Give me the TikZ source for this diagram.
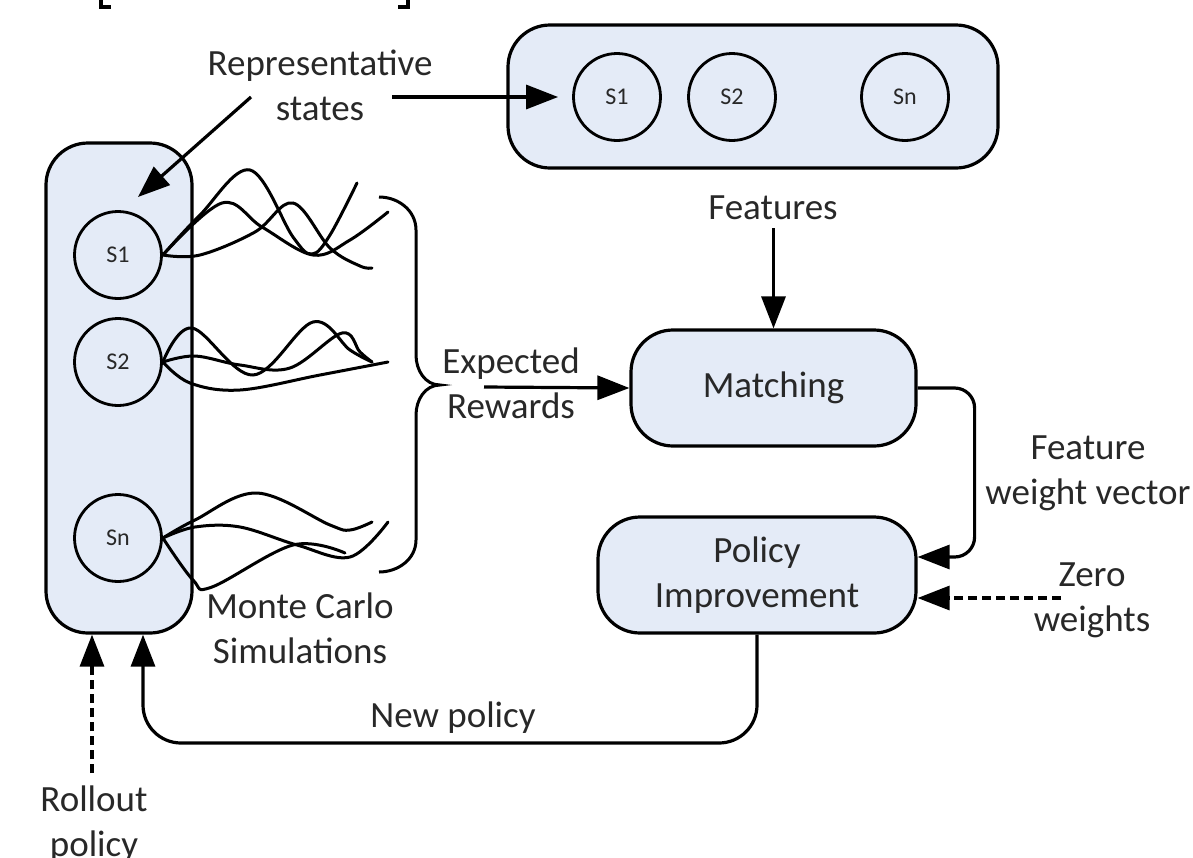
\documentclass[tikz,border=0pt]{standalone}
\usepackage{fontspec}
\setmainfont{Carlito}
\usepackage{tikz}
\usetikzlibrary{shapes, arrows.meta, positioning, calc}

\definecolor{boxfill}{RGB}{228,235,247}
\definecolor{inktext}{RGB}{40,40,40}
\newcommand{\lblfont}{\fontsize{37}{45}\selectfont}
\newcommand{\statefont}{\fontsize{24}{28}\selectfont}

\begin{document}
\begin{tikzpicture}[
        x=1pt, y=-1pt,
        box/.style={rectangle, draw, line width=3.2pt, fill=boxfill, rounded corners=42pt, align=center, font=\lblfont, text=inktext},
        state/.style={circle, draw, line width=2.8pt, minimum size=87pt, inner sep=0pt, font=\statefont, text=inktext},
        lbl/.style={font=\lblfont, text=inktext, align=center, inner sep=2pt},
        arrow/.style={-{Triangle[length=32pt, width=24pt]}, line width=3.2pt},
        darrow/.style={arrow, dash pattern=on 9pt off 5pt},
        sim/.style={line width=3pt, line cap=round}
    ]
        \useasboundingbox (0,0) rectangle (1193,857);

        % Left column of states
        \node[box, minimum width=146pt, minimum height=490pt] (leftbox) at (119,388) {};
        \node[state] (s1L) at (118,255) {S1};
        \node[state] (s2L) at (118,362) {S2};
        \node[state] (snL) at (118,538) {Sn};

        % Top row of states
        \node[box, minimum width=490pt, minimum height=143pt] (topbox) at (753,96.5) {};
        \node[state] (s1T) at (617,97) {S1};
        \node[state] (s2T) at (732,97) {S2};
        \node[state] (snT) at (905,97) {Sn};

        % Process boxes
        \node[box, minimum width=285pt, minimum height=116pt] (match) at (773.5,388) {Matching};
        \node[box, minimum width=318pt, minimum height=116pt] (policy) at (757,575) {Policy\\Improvement};

        % Labels
        \node[lbl] (reps) at (320,85) {Representative\\states};
        \node[lbl] (feat) at (773,208) {Features};
        \node[lbl] (rewards) at (511,383) {Expected\\Rewards};
        \node[lbl] (fwv) at (1088,473) {Feature\\weight vector};
        \node[lbl] (zero) at (1092,600) {Zero\\weights};
        \node[lbl] (mc) at (300,628) {Monte Carlo\\Simulations};
        \node[lbl] (newpol) at (453,718) {New policy};
        \node[lbl] (rollout) at (94,824) {Rollout\\policy};

        % Free ends
        \coordinate (repsR) at (392,97);
        \coordinate (repsL) at (251,97);
        \coordinate (s1Ltip) at (138,197);
        \coordinate (rwd) at (484,387);
        \coordinate (zr) at (1061,598);
        \coordinate (loop) at (143,743);

        % Arrows
        \draw[arrow, shorten >=14pt] (repsR) -- (s1T.west);
        \draw[arrow] (repsL) -- (s1Ltip);
        \draw[arrow, shorten <=6pt] (match.north |- feat.south) -- (match.north);
        \draw[arrow] (rwd) -- (match.west);
        \draw[arrow, rounded corners=20pt] (match.east) -- ++(57,0) |- ([yshift=18pt]policy.east);
        \draw[darrow] (zr) -- (policy.east |- zr);
        \draw[arrow, rounded corners=38pt] (policy.south) |- (loop) -- ([xshift=24pt]leftbox.south);
        \draw[darrow] ([xshift=-27pt]leftbox.south |- 0,773) -- ([xshift=-27pt]leftbox.south);

        % Monte Carlo simulations
        \draw[sim] plot[smooth, tension=0.6] coordinates {(s1L.east) (200,215) (250,170) (293,237) (312,254) (330,235) (357,183)};
        \draw[sim] plot[smooth, tension=0.6] coordinates {(s1L.east) (222,203) (262,227) (313,255) (350,240) (388,212)};
        \draw[sim] plot[smooth, tension=0.6] coordinates {(s1L.east) (200,255) (255,232) (293,203) (330,248) (360,266) (372,268)};

        \draw[sim] plot[smooth, tension=0.6] coordinates {(s2L.east) (192,328) (253,375) (313,322) (350,350) (372,362)};
        \draw[sim] plot[smooth, tension=0.6] coordinates {(s2L.east) (195,356) (240,365) (290,368) (342,333) (360,352) (372,362)};
        \draw[sim] plot[smooth, tension=0.6] coordinates {(s2L.east) (190,383) (240,390) (320,375) (388,362)};

        \draw[sim] plot[smooth, tension=0.6] coordinates {(snL.east) (195,520) (257,493) (330,525) (350,530) (372,522)};
        \draw[sim] plot[smooth, tension=0.6] coordinates {(snL.east) (195,527) (240,527) (297,545) (350,557) (388,522)};
        \draw[sim] plot[smooth, tension=0.6] coordinates {(snL.east) (193,580) (212,587) (293,545) (345,553)};

        % Brace
        \draw[line width=3pt] (379,197) to[out=0, in=90] (416,230) -- (416,355)
            to[out=-90, in=180] (440,385) to[out=180, in=90] (416,415) -- (416,540)
            to[out=-90, in=0] (379,572);

        % Cropped frame at top
        \draw[line width=4pt] (101,0) -- (101,7) -- (111,7);
        \draw[line width=4pt] (398,7) -- (408,7) -- (408,0);
    \end{tikzpicture}
\end{document}
